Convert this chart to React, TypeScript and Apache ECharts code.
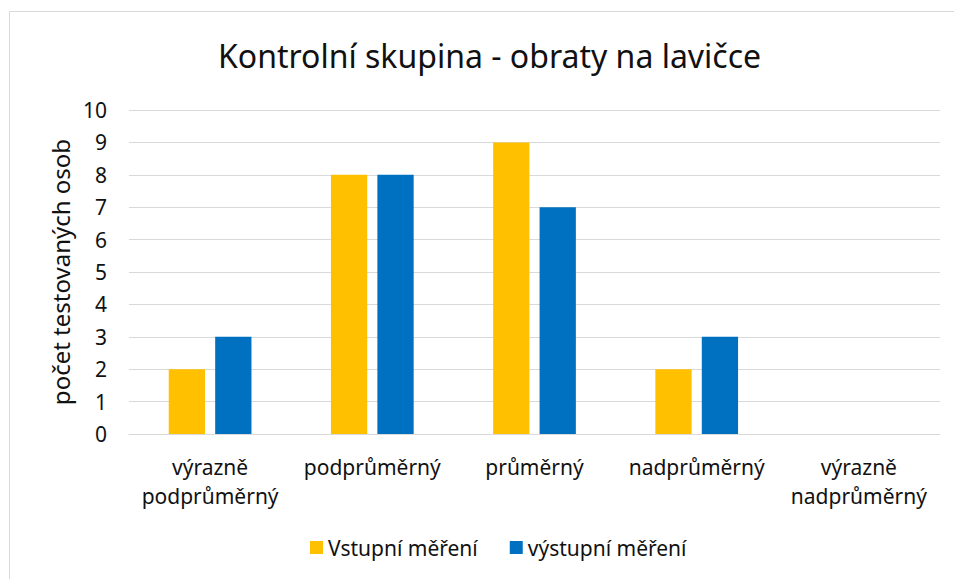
import React, { useEffect, useRef } from "react";
import * as echarts from "echarts";

const categories = ["výrazně\npodprůměrný", "podprůměrný", "průměrný", "nadprůměrný", "výrazně\nnadprůměrný"];
const vstupni = [2, 8, 9, 2, 0];
const vystupni = [3, 8, 7, 3, 0];
const seriesNames = ["Vstupní měření", "výstupní měření"];
const titleText = "Kontrolní skupina - obraty na lavičce";
const yAxisTitle = "počet testovaných osob";

const FONT = "'Noto Sans', sans-serif";
const TXT = "#111111";

export default function App() {
  const ref = useRef<HTMLDivElement>(null);
  useEffect(() => {
    if (!ref.current) return;
    const chart = echarts.init(ref.current, null, { renderer: "svg" });
    chart.setOption({
      animation: false,
      backgroundColor: "#ffffff",
      textStyle: { fontFamily: FONT },
      graphic: [
        {
          type: "rect",
          shape: { x: 9.5, y: 11.5, width: 1000, height: 1000 },
          style: { fill: "none", stroke: "#d9d9d9", lineWidth: 1 },
          silent: true,
        },
      ],
      title: {
        text: titleText,
        left: 213,
        top: 34,
        textStyle: { fontFamily: FONT, fontSize: 32, fontWeight: "normal", color: TXT },
      },
      legend: {
        data: seriesNames,
        bottom: 16,
        left: 305,
        itemWidth: 13,
        itemHeight: 13,
        itemGap: 32,
        icon: "rect",
        textStyle: { fontFamily: FONT, fontSize: 21, color: TXT },
      },
      grid: { left: 129, right: 14, top: 110, bottom: 145 },
      xAxis: {
        type: "category",
        data: categories,
        axisLine: { lineStyle: { color: "#d9d9d9", width: 1 } },
        axisTick: { show: false },
        axisLabel: {
          fontFamily: FONT,
          fontSize: 21,
          color: TXT,
          lineHeight: 29,
          margin: 18,
          interval: 0,
        },
      },
      yAxis: {
        type: "value",
        min: 0,
        max: 10,
        interval: 1,
        name: yAxisTitle,
        nameLocation: "middle",
        nameGap: 56,
        nameTextStyle: { fontFamily: FONT, fontSize: 24, color: TXT },
        axisLine: { show: false },
        axisTick: { show: false },
        splitLine: { lineStyle: { color: "#d9d9d9", width: 1 } },
        axisLabel: { fontFamily: FONT, fontSize: 21, color: TXT, margin: 22 },
      },
      series: [
        {
          name: seriesNames[0],
          type: "bar",
          data: vstupni,
          itemStyle: { color: "#FFC000" },
          barGap: "28%",
          barCategoryGap: "49%",
        },
        {
          name: seriesNames[1],
          type: "bar",
          data: vystupni,
          itemStyle: { color: "#0070C0" },
          barGap: "28%",
          barCategoryGap: "49%",
        },
      ],
    });
    return () => chart.dispose();
  }, []);
  return (
    <div
      ref={ref}
      style={{ position: "absolute", left: 0, top: 0, width: 954, height: 579 }}
    />
  );
}
